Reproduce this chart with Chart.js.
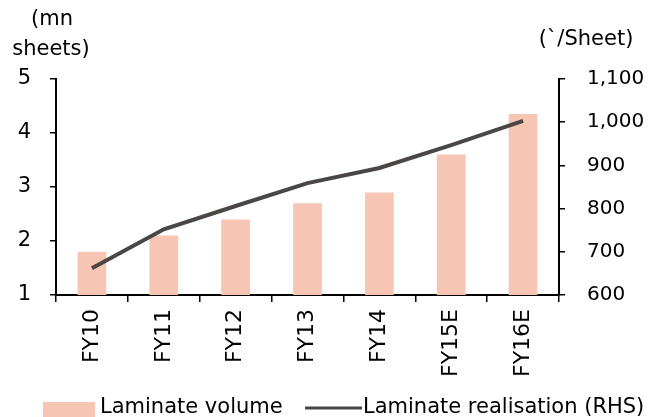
<!DOCTYPE html>
<html><head><meta charset="utf-8">
<script src="https://cdn.jsdelivr.net/npm/chart.js@4"></script>
<style>html,body{margin:0;padding:0;background:#fff}#wrap{width:655px;height:417px;position:relative}</style>
</head><body><div id="wrap"><canvas id="c"></canvas></div>
<script>
const categories = ['FY10', 'FY11', 'FY12', 'FY13', 'FY14', 'FY15E', 'FY16E'];
const laminateVolume = [1.8, 2.1, 2.4, 2.7, 2.9, 3.6, 4.35];       // mn sheets
const laminateRealisation = [662, 752, 806, 859, 894, 947, 1003];   // per sheet
const leftTicks = [1, 2, 3, 4, 5];
const rightTicks = [600, 700, 800, 900, 1000, 1100];
const leftUnit = ['(mn', 'sheets)'];
const rightUnit = '(`/Sheet)';
const seriesNames = ['Laminate volume', 'Laminate realisation (RHS)'];

const FONT = 'DejaVu Sans';
const BAR_COLOR = '#F6C5B3';
const LINE_COLOR = '#4A4646';

// Axis unit captions above each value axis
const unitLabels = {
  id: 'unitLabels',
  afterDraw(chart) {
    const ctx = chart.ctx;
    ctx.save();
    ctx.fillStyle = '#000';
    ctx.font = '21px "' + FONT + '"';
    ctx.textAlign = 'center';
    ctx.textBaseline = 'middle';
    ctx.fillText(leftUnit[0], 52, 20);
    ctx.fillText(leftUnit[1], 51, 50);
    ctx.fillText(rightUnit, 586, 40);
    ctx.restore();
  }
};

// Legend row along the bottom edge, built from the datasets
const bottomLegend = {
  id: 'bottomLegend',
  afterDraw(chart) {
    const ctx = chart.ctx;
    const ds = chart.data.datasets;
    const y = 408;
    ctx.save();
    ctx.font = '21px "' + FONT + '"';
    ctx.textBaseline = 'middle';
    ctx.textAlign = 'left';
    // bar swatch + label
    ctx.fillStyle = ds[0].backgroundColor;
    ctx.fillRect(43, 402, 52, 15);
    ctx.fillStyle = '#000';
    ctx.fillText(ds[0].label, 100, y);
    // line swatch + label
    ctx.strokeStyle = ds[1].borderColor;
    ctx.lineWidth = 3;
    ctx.beginPath();
    ctx.moveTo(305, y);
    ctx.lineTo(362, y);
    ctx.stroke();
    ctx.fillText(ds[1].label, 363, y);
    ctx.restore();
  }
};

new Chart(document.getElementById('c'), {
  data: {
    labels: categories,
    datasets: [
      {
        type: 'bar',
        label: seriesNames[0],
        data: laminateVolume,
        yAxisID: 'yL',
        backgroundColor: BAR_COLOR,
        barPercentage: 0.4,
        categoryPercentage: 1,
        order: 1
      },
      {
        type: 'line',
        label: seriesNames[1],
        data: laminateRealisation,
        yAxisID: 'yR',
        borderColor: LINE_COLOR,
        borderWidth: 4,
        pointRadius: 0,
        tension: 0,
        fill: false,
        order: 0
      }
    ]
  },
  options: {
    responsive: true,
    maintainAspectRatio: false,
    animation: false,
    layout: { padding: { top: 79, left: 0, right: 0, bottom: 0 } },
    plugins: {
      tooltip: { enabled: false },
      legend: { display: false }
    },
    scales: {
      x: {
        offset: true,
        afterFit(s) { s.height = 122; },
        grid: { display: true, drawOnChartArea: false, offset: true, tickLength: 7, color: '#000', lineWidth: 1.5 },
        border: { display: true, color: '#000', width: 2 },
        ticks: { color: '#000', font: { family: FONT, size: 22 }, minRotation: 90, maxRotation: 90, padding: 7 }
      },
      yL: {
        position: 'left',
        min: 1, max: 5,
        afterFit(s) { s.width = 56; },
        afterBuildTicks(s) { s.ticks = leftTicks.map(v => ({ value: v })); },
        grid: { display: true, drawOnChartArea: false, tickLength: 6, color: '#000', lineWidth: 1.5 },
        border: { display: true, color: '#000', width: 2 },
        ticks: { color: '#000', font: { family: FONT, size: 21 }, padding: 19 }
      },
      yR: {
        position: 'right',
        min: 600, max: 1100,
        afterFit(s) { s.width = 96; },
        afterBuildTicks(s) { s.ticks = rightTicks.map(v => ({ value: v })); },
        grid: { display: true, drawOnChartArea: false, tickLength: 6, color: '#000', lineWidth: 1.5 },
        border: { display: true, color: '#000', width: 2 },
        ticks: {
          color: '#000', font: { family: FONT, size: 20 }, padding: 22,
          callback: v => v.toLocaleString('en-US')
        }
      }
    }
  },
  plugins: [unitLabels, bottomLegend]
});
</script>
</body></html>
